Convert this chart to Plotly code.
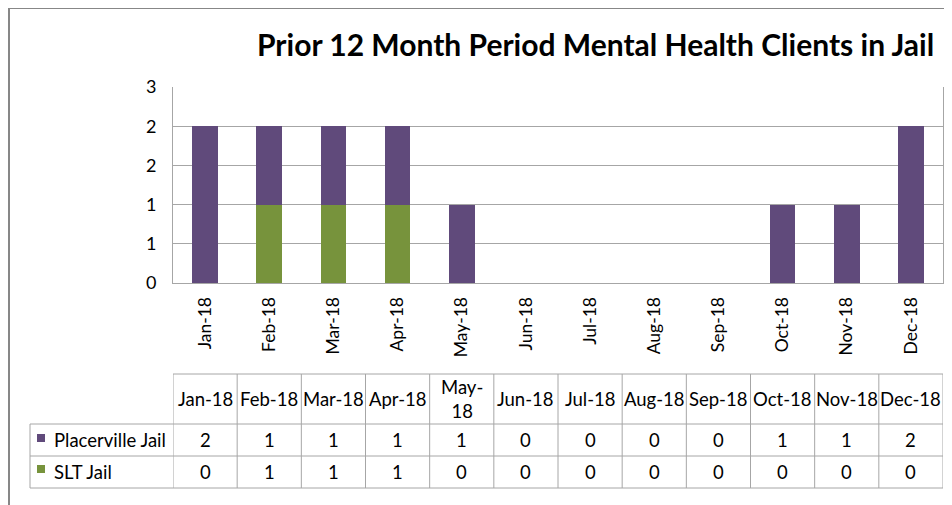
import plotly.graph_objects as go

months = ["Jan-18", "Feb-18", "Mar-18", "Apr-18", "May-18", "Jun-18",
          "Jul-18", "Aug-18", "Sep-18", "Oct-18", "Nov-18", "Dec-18"]
header_labels = ["Jan-18", "Feb-18", "Mar-18", "Apr-18", "May-<br>18", "Jun-18",
                 "Jul-18", "Aug-18", "Sep-18", "Oct-18", "Nov-18", "Dec-18"]
placerville = [2, 1, 1, 1, 1, 0, 0, 0, 0, 1, 1, 2]
slt = [0, 1, 1, 1, 0, 0, 0, 0, 0, 0, 0, 0]
y_tick_vals = [0, 0.5, 1, 1.5, 2, 2.5]
y_tick_labels = ["0", "1", "1", "2", "2", "3"]

PURPLE = "#604A7B"
GREEN = "#77933C"
GRID = "#A6A6A6"
FONT = "Lato, Carlito, Calibri, sans-serif"

# the page body adds an 8px margin, so the figure is drawn 8px smaller
OFF = 8
W, H = 952 - OFF, 505 - OFF
L, R, T, B = 173 - OFF, 9, 87 - OFF, 222
PH = H - T - B
PW = W - L - R


def py(pix):
    # screen pixel row -> paper y
    return (H - B - (pix - OFF)) / PH


def px(pix):
    # screen pixel column -> paper x
    return (pix - OFF - L) / PW


fig = go.Figure()
fig.add_trace(go.Bar(x=months, y=slt, name="SLT Jail", marker_color=GREEN,
                     marker_line_width=0))
fig.add_trace(go.Bar(x=months, y=placerville, name="Placerville Jail",
                     marker_color=PURPLE, marker_line_width=0))

shapes = []
line = dict(color=GRID, width=1)
# data table: header 374-424, rows 424-456 and 456-488
y_top, y_hdr, y_r1, y_bot = py(374), py(424), py(456), py(488)
x_leg = px(30)
n = len(months)
shapes.append(dict(type="line", xref="x", yref="paper", x0=-0.5, x1=n - 0.5,
                   y0=y_top, y1=y_top, line=line))
for yy in (y_hdr, y_r1, y_bot):
    shapes.append(dict(type="line", xref="paper", yref="paper", x0=x_leg, x1=1,
                       y0=yy, y1=yy, line=line))
for i in range(n + 1):
    shapes.append(dict(type="line", xref="x", yref="paper", x0=i - 0.5, x1=i - 0.5,
                       y0=y_top, y1=y_bot, line=line))
shapes.append(dict(type="line", xref="paper", yref="paper", x0=x_leg, x1=x_leg,
                   y0=y_hdr, y1=y_bot, line=line))
# legend keys
for (y0p, col) in ((434, PURPLE), (465, GREEN)):
    shapes.append(dict(type="rect", xref="paper", yref="paper", x0=px(37), x1=px(45),
                       y0=py(y0p + 8), y1=py(y0p), fillcolor=col, line_width=0))
# cropped outer chart border
shapes.append(dict(type="line", xref="paper", yref="paper", x0=px(9), x1=px(9),
                   y0=py(8), y1=py(520), line=dict(color="#878787", width=2)))
shapes.append(dict(type="line", xref="paper", yref="paper", x0=px(8), x1=px(970),
                   y0=py(8.5), y1=py(8.5), line=dict(color="#878787", width=1)))

ann = []
tf = dict(family=FONT, size=18.5, color="#000000")
for i in range(n):
    ann.append(dict(x=i, y=(y_top + y_hdr) / 2, xref="x", yref="paper",
                    text=header_labels[i], showarrow=False, font=tf,
                    xanchor="center", yanchor="middle"))
    ann.append(dict(x=i, y=(y_hdr + y_r1) / 2, xref="x", yref="paper",
                    text=str(placerville[i]), showarrow=False, font=tf,
                    xanchor="center", yanchor="middle"))
    ann.append(dict(x=i, y=(y_r1 + y_bot) / 2, xref="x", yref="paper",
                    text=str(slt[i]), showarrow=False, font=tf,
                    xanchor="center", yanchor="middle"))
ann.append(dict(x=px(52), y=(y_hdr + y_r1) / 2, xref="paper", yref="paper",
                text="Placerville Jail", showarrow=False, font=tf,
                xanchor="left", yanchor="middle"))
ann.append(dict(x=px(52), y=(y_r1 + y_bot) / 2, xref="paper", yref="paper",
                text="SLT Jail", showarrow=False, font=tf,
                xanchor="left", yanchor="middle"))
ann.append(dict(x=px(595), y=py(44), xref="paper", yref="paper",
                text="<b>Prior 12 Month Period Mental Health Clients in Jail</b>",
                showarrow=False, xanchor="center", yanchor="middle",
                font=dict(family=FONT, size=30, color="#000000")))

fig.update_layout(
    width=W, height=H,
    margin=dict(l=L, r=R, t=T, b=B),
    paper_bgcolor="white", plot_bgcolor="white",
    barmode="stack", bargap=0.6,
    showlegend=False,
    font=dict(family=FONT, size=17, color="#000000"),
    shapes=shapes, annotations=ann,
    xaxis=dict(tickangle=-90, showline=True, linecolor=GRID, linewidth=1,
               ticks="", showgrid=False, range=[-0.5, n - 0.5],
               ticklabelstandoff=6, tickfont=dict(family=FONT, size=17.5)),
    yaxis=dict(range=[0, 2.5], tickvals=y_tick_vals, ticktext=y_tick_labels,
               showgrid=True, gridcolor=GRID, gridwidth=1, showline=True,
               linecolor=GRID, linewidth=1, ticks="", zeroline=False,
               mirror=True, ticklabelstandoff=12,
               tickfont=dict(family=FONT, size=18)),
)

fig.write_html("out.html")
